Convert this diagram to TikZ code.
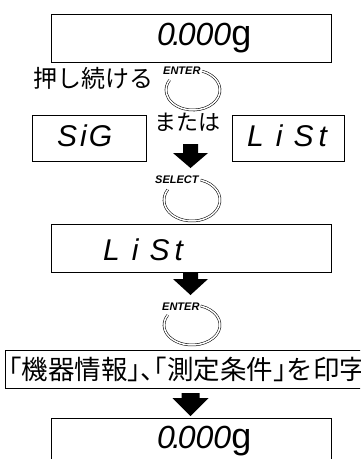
\documentclass[tikz,border=0pt]{standalone}
\usepackage{fontspec}
\usetikzlibrary{calc}
\setmainfont{Liberation Sans}
\newfontfamily\jp{Noto Sans CJK JP}
\newfontfamily\jph[RawFeature=+halt]{Noto Sans CJK JP}
\newcommand{\segfont}{\fontsize{30}{30}\selectfont\itshape}
\newcommand{\keyfont}{\fontsize{11}{11}\selectfont\bfseries\itshape}
\begin{document}
\begin{tikzpicture}[x=1pt,y=1pt,
  dispbox/.style={draw=black,line width=0.9pt,inner sep=0pt,minimum width=#1},
  segtext/.style={inner sep=0pt,anchor=base west,font=\segfont},
  keylabel/.style={inner sep=0pt,anchor=base west,font=\keyfont},
  jptext/.style={inner sep=0pt,anchor=base west},
  keyring/.style={draw=black,line width=0.55pt,double=white,double distance=1.5pt},
  blockarrow/.style={fill=black}]
\clip (0,0) rectangle (360,-459);
\fill[white] (0,0) rectangle (360,-459);

% top display
\node[dispbox=280pt,minimum height=48pt] (top) at (191,-38) {};
\node[segtext,font=\fontsize{32}{32}\selectfont\itshape] (toptxt) at (157,-45) {0\kern-3pt.\kern-3pt000{\upshape\fontsize{36}{36}\selectfont g}};

% press and hold ENTER
\node[jptext,font=\jp\fontsize{24}{24}\selectfont] (hold) at (33,-87) {押し続ける};
\node[keylabel] (enter1) at (163,-74) {ENTER};
\coordinate (ring1) at (193,-90);
\draw[keyring] ($(ring1)+(70:27pt and 20pt)$) arc[start angle=70,end angle=-210,x radius=27pt,y radius=20pt];

% SiG / LiSt row
\node[dispbox=114pt,minimum height=46pt] (sig) at (89,-138) {};
\node[segtext] (sigtxt) at (57,-146) {S\kern3pt i\kern2pt G};
\node[jptext,font=\jp\fontsize{22}{22}\selectfont] (or) at (154,-130) {または};
\node[dispbox=112pt,minimum height=46pt] (list1) at (288,-138) {};
\node[segtext] (list1txt) at (247,-146) {L\kern12pt i\kern11pt S\kern5pt t};

% arrow 1
\coordinate (a1) at (190.5,-144);
\fill[blockarrow] (a1) ++(-7.5,0) -- ++(0,-9) -- ++(-10,0) -- (190.5,-168) -- ++(17.5,15) -- ++(-10,0) -- ++(0,9) -- cycle;

% SELECT
\node[keylabel] (select) at (155,-183) {SELECT};
\coordinate (ring2) at (192,-200);
\draw[keyring] ($(ring2)+(72:28pt and 21pt)$) arc[start angle=72,end angle=-210,x radius=28pt,y radius=21pt];

% LiSt display
\node[dispbox=280pt,minimum height=48pt] (list2) at (191,-248) {};
\node[segtext] (list2txt) at (103,-260) {L\kern12pt i\kern11pt S\kern5pt t};

% arrow 2
\coordinate (a2) at (190.5,-272);
\fill[blockarrow] (a2) ++(-7.5,0) -- ++(0,-7) -- ++(-10,0) -- (190.5,-295) -- ++(17.5,16) -- ++(-10,0) -- ++(0,7) -- cycle;

% ENTER 2
\node[keylabel] (enter2) at (162,-310) {ENTER};
\coordinate (ring3) at (192,-325);
\draw[keyring] ($(ring3)+(72:28pt and 20pt)$) arc[start angle=72,end angle=-210,x radius=28pt,y radius=20pt];

% print box
\node[draw=black,line width=0.9pt,minimum height=38pt,inner xsep=3pt,inner ysep=0pt,anchor=west,font=\jp\fontsize{26.5}{26.5}\selectfont] (print) at (5,-369) {{\jph 「}機器情報{\jph 」、「}測定条件{\jph 」}を印字\kern20pt};

% arrow 3
\coordinate (a3) at (190.5,-393);
\fill[blockarrow] (a3) ++(-9,0) -- ++(0,-5) -- ++(-9,0) -- (190.5,-416) -- ++(18,18) -- ++(-9,0) -- ++(0,5) -- cycle;

% bottom display
\node[dispbox=280pt,minimum height=60pt] (bot) at (191,-448) {};
\node[segtext,font=\fontsize{32}{32}\selectfont\itshape] (bottxt) at (157,-448) {0\kern-3pt.\kern-3pt000{\upshape\fontsize{36}{36}\selectfont g}};
\end{tikzpicture}
\end{document}
